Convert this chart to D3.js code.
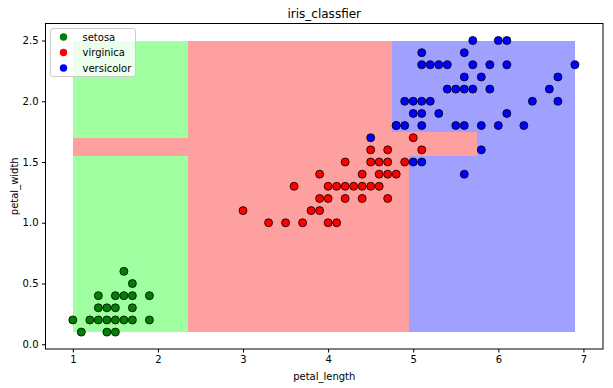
<!DOCTYPE html>
<meta charset="utf-8">
<style>
body { margin: 0; background: #fff; }
text { font-family: "DejaVu Sans", sans-serif; fill: #000; }
.axis path, .axis line { stroke: #000; stroke-width: 1px; }
.axis text { font-size: 10px; }
</style>
<body>
<script src="https://d3js.org/d3.v7.min.js"></script>
<script>

// points (petal_length, petal_width) per legend label
var setosa = [[1.4,0.2],[1.3,0.2],[1.5,0.2],[1.7,0.4],[1.4,0.3],[1.5,0.1],[1.6,0.2],[1.4,0.1],
  [1.1,0.1],[1.2,0.2],[1.5,0.4],[1.3,0.4],[1.7,0.3],[1.5,0.3],[1.7,0.2],[1.0,0.2],[1.7,0.5],
  [1.9,0.2],[1.6,0.4],[1.3,0.3],[1.6,0.6],[1.9,0.4]];
var virginica = [[4.7,1.4],[4.5,1.5],[4.9,1.5],[4.0,1.3],[4.6,1.5],[4.5,1.3],[4.7,1.6],[3.3,1.0],
  [4.6,1.3],[3.9,1.4],[3.5,1.0],[4.2,1.5],[4.0,1.0],[3.6,1.3],[4.4,1.4],[4.1,1.0],[3.9,1.1],
  [4.8,1.8],[4.7,1.2],[4.3,1.3],[4.8,1.4],[5.0,1.7],[3.8,1.1],[3.7,1.0],[3.9,1.2],[5.1,1.6],
  [4.5,1.6],[4.7,1.5],[4.4,1.3],[4.1,1.3],[4.4,1.2],[4.6,1.4],[4.0,1.2],[4.2,1.3],[4.2,1.2],[3.0,1.1]];
var versicolor = [[6.0,2.5],[5.1,1.9],[5.9,2.1],[5.6,1.8],[5.8,2.2],[6.6,2.1],[4.5,1.7],[6.3,1.8],
  [5.8,1.8],[6.1,2.5],[5.1,2.0],[5.3,1.9],[5.5,2.1],[5.0,2.0],[5.1,2.4],[5.3,2.3],[5.5,1.8],
  [6.7,2.2],[6.9,2.3],[5.0,1.5],[5.7,2.3],[4.9,2.0],[6.7,2.0],[4.9,1.8],[5.7,2.1],[6.0,1.8],
  [4.8,1.8],[5.6,2.1],[5.8,1.6],[6.1,1.9],[6.4,2.0],[5.6,2.2],[5.1,1.5],[5.6,1.4],[6.1,2.3],
  [5.6,2.4],[5.4,2.1],[5.1,2.3],[5.9,2.3],[5.7,2.5],[5.2,2.3],[5.0,1.9],[5.2,2.0],[5.4,2.3],[5.1,1.8]];

// decision regions: [x0, x1, y0, y1, class index]
var regions = [
  [1.0, 2.35, 0.1, 1.55, 0], [1.0, 2.35, 1.70, 2.5, 0],
  [1.0, 2.35, 1.55, 1.70, 1], [2.35, 4.75, 0.1, 2.5, 1], [4.75, 4.95, 0.1, 1.75, 1], [4.95, 5.75, 1.55, 1.75, 1],
  [4.75, 6.9, 1.75, 2.5, 2], [4.95, 6.9, 0.1, 1.55, 2], [5.75, 6.9, 1.55, 1.75, 2]
];

var labels = ["setosa", "virginica", "versicolor"];
var xTicks = [1, 2, 3, 4, 5, 6, 7];
var yTicks = [0.0, 0.5, 1.0, 1.5, 2.0, 2.5];

var lightColors = ["#a0ffa0", "#ffa0a0", "#a0a0ff"];
var boldColors = ["#008000", "#ff0000", "#0000ff"];

var margin = {top: 23.5, right: 10, bottom: 39, left: 45.5},
    W = 613, H = 388,
    width = W - margin.left - margin.right,
    height = H - margin.top - margin.bottom;

var x = d3.scaleLinear().domain([0.679, 7.23]).range([0, width]);
var y = d3.scaleLinear().domain([-0.039, 2.64]).range([height, 0]);

var svg = d3.select("body").append("svg")
    .attr("width", W)
    .attr("height", H)
  .append("g")
    .attr("transform", "translate(" + margin.left + "," + margin.top + ")");

// regions
svg.selectAll("rect.region")
    .data(regions)
  .enter().append("rect")
    .attr("class", "region")
    .attr("x", function(d) { return x(d[0]); })
    .attr("width", function(d) { return x(d[1]) - x(d[0]); })
    .attr("y", function(d) { return y(d[3]); })
    .attr("height", function(d) { return y(d[2]) - y(d[3]); })
    .attr("fill", function(d) { return lightColors[d[4]]; })
    .attr("shape-rendering", "crispEdges");

// points
[setosa, virginica, versicolor].forEach(function(pts, i) {
  svg.append("g").selectAll("circle")
      .data(pts)
    .enter().append("circle")
      .attr("cx", function(d) { return x(d[0]); })
      .attr("cy", function(d) { return y(d[1]); })
      .attr("r", 4)
      .attr("fill", boldColors[i])
      .attr("stroke", "#000")
      .attr("stroke-width", 0.8);
});

// axes
svg.append("g")
    .attr("class", "axis")
    .attr("transform", "translate(0," + height + ")")
    .call(d3.axisBottom(x).tickValues(xTicks).tickSize(3.5).tickPadding(3.5).tickFormat(d3.format("d")));

svg.append("g")
    .attr("class", "axis")
    .call(d3.axisLeft(y).tickValues(yTicks).tickSize(3.5).tickPadding(3.5).tickFormat(d3.format(".1f")));

// frame
svg.append("rect")
    .attr("width", width)
    .attr("height", height)
    .attr("fill", "none")
    .attr("stroke", "#000")
    .attr("stroke-width", 1);

svg.selectAll(".axis .domain").remove();

// title and labels
svg.append("text")
    .attr("x", width / 2)
    .attr("y", -6)
    .attr("text-anchor", "middle")
    .style("font-size", "12px")
    .text("iris_classfier");

svg.append("text")
    .attr("x", width / 2)
    .attr("y", height + 31)
    .attr("text-anchor", "middle")
    .style("font-size", "10px")
    .text("petal_length");

svg.append("text")
    .attr("transform", "translate(" + (-28) + "," + (height / 2) + ") rotate(-90)")
    .attr("text-anchor", "middle")
    .style("font-size", "10px")
    .text("petal_width");

// legend
var legend = svg.append("g").attr("transform", "translate(5,5)");
legend.append("rect")
    .attr("width", 85)
    .attr("height", 48)
    .attr("rx", 2.5)
    .attr("fill", "#fff")
    .attr("fill-opacity", 0.8)
    .attr("stroke", "#ccc")
    .attr("stroke-width", 1);

labels.forEach(function(name, i) {
  legend.append("circle")
      .attr("cx", 13)
      .attr("cy", 8.5 + i * 15.5)
      .attr("r", 3.7)
      .attr("fill", boldColors[i]);
  legend.append("text")
      .attr("x", 32)
      .attr("y", 12 + i * 15.5)
      .style("font-size", "10px")
      .text(name);
});

</script>
</body>
